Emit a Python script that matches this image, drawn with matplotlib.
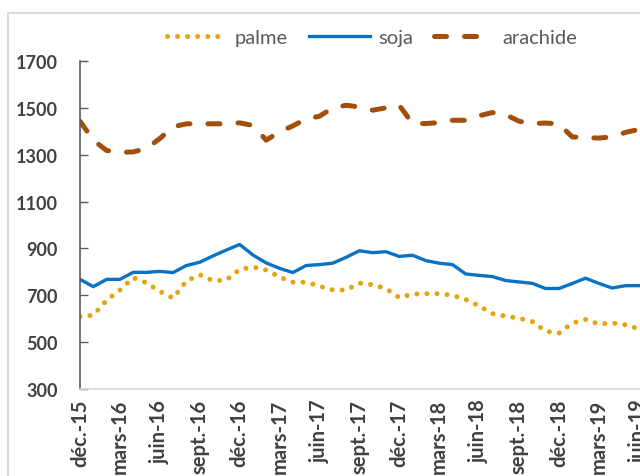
import matplotlib.pyplot as plt
from matplotlib.patches import Rectangle
import numpy as np

# monthly prices, déc.-15 .. juin-19
tick_labels = ['déc.-15', 'mars-16', 'juin-16', 'sept.-16', 'déc.-16', 'mars-17', 'juin-17',
               'sept.-17', 'déc.-17', 'mars-18', 'juin-18', 'sept.-18', 'déc.-18', 'mars-19', 'juin-19']

palme = [609, 615, 679, 722, 775, 753, 717, 688, 761, 788, 762, 765, 810, 821, 808, 778,
         756, 756, 739, 723, 722, 752, 745, 729, 690, 705, 707, 707, 700, 682, 655, 622,
         611, 602, 588, 547, 538, 581, 597, 577, 582, 574, 557]
soja = [768, 737, 768, 768, 798, 798, 802, 797, 827, 841, 868, 893, 917, 872, 838, 815,
        797, 827, 831, 837, 862, 890, 882, 886, 866, 871, 848, 837, 831, 791, 785, 780,
        763, 757, 751, 729, 729, 750, 773, 751, 731, 741, 741]
arachide = [1443, 1362, 1318, 1310, 1312, 1327, 1369, 1419, 1432, 1432, 1432, 1432, 1436, 1425,
            1362, 1398, 1423, 1453, 1464, 1500, 1511, 1504, 1490, 1500, 1511, 1433, 1433, 1437,
            1447, 1447, 1466, 1480, 1471, 1443, 1433, 1435, 1432, 1376, 1373, 1371, 1376, 1395, 1408]

yticks = [300, 500, 700, 900, 1100, 1300, 1500, 1700]

fig = plt.figure(figsize=(6.4, 4.77), dpi=100)
ax = fig.add_axes([80 / 640, 87 / 477, 560 / 640, 328 / 477])

x = np.arange(len(soja))
ax.plot(x, palme, color='#E3A50B', lw=3.6, linestyle=(0, (0.01, 2.0)),
        dash_capstyle='round', label='palme')
ax.plot(x, soja, color='#0A72C4', lw=2.4, label='soja', solid_joinstyle='round')
ax.plot(x, arachide, color='#A24F0C', lw=3.6, linestyle=(0, (2.4, 3.6)),
        dash_capstyle='round', label='arachide')

ax.set_xlim(0, 42.1)
ax.set_ylim(300, 1700)
ax.set_yticks(yticks)
ax.set_yticklabels([str(v) for v in yticks], fontsize=13, fontweight='bold',
                   color='#404040', family='Lato')
ax.set_xticks(np.arange(0, 43, 3))
ax.set_xticklabels(tick_labels, rotation=90, fontsize=14.5, fontweight='bold',
                   color='#404040', family='Lato')
ax.tick_params(axis='y', direction='in', length=6, width=1, color='#595959', pad=16)
ax.tick_params(axis='x', length=0, pad=7)

for s in ['top', 'right']:
    ax.spines[s].set_visible(False)
ax.spines['left'].set_color('#595959')
ax.spines['left'].set_linewidth(1.2)
ax.spines['bottom'].set_color('#D9D9D9')
ax.spines['bottom'].set_linewidth(1.2)

leg = fig.legend(loc='center', bbox_to_anchor=(0.581, 0.92), ncol=3, frameon=False,
                 prop={'family': 'Lato', 'size': 14.5}, handlelength=3.0,
                 handletextpad=0.4, columnspacing=1.05)
for t in leg.get_texts():
    t.set_color('#595959')

# chart frame
fig.add_artist(Rectangle((8 / 640, -0.1), 1.0, (477 - 14) / 477 + 0.1,
                         transform=fig.transFigure, fill=False,
                         edgecolor='#D9D9D9', lw=1.5))

fig.savefig('out.png', dpi=100)
